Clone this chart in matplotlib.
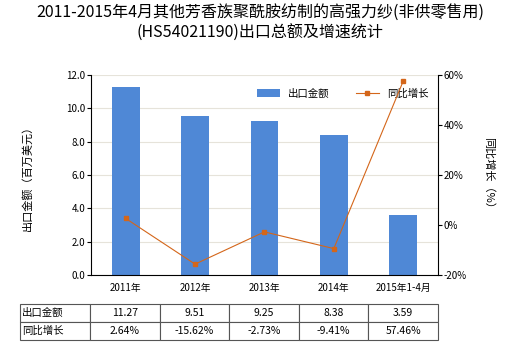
import matplotlib
matplotlib.use("Agg")
import matplotlib.pyplot as plt
import numpy as np

plt.rcParams['font.family'] = ['Noto Sans CJK SC', 'DejaVu Sans']

# données
categories = ["2011年", "2012年", "2013年", "2014年", "2015年1-4月"]
export_values = [11.27, 9.51, 9.25, 8.38, 3.59]
growth_values = [2.64, -15.62, -2.73, -9.41, 57.46]
export_labels = ["11.27", "9.51", "9.25", "8.38", "3.59"]
growth_labels = ["2.64%", "-15.62%", "-2.73%", "-9.41%", "57.46%"]

bar_color = "#4F88D6"
line_color = "#D4661A"

fig = plt.figure(figsize=(5.2, 3.5), dpi=100)
ax = fig.add_axes([0.175, 0.214, 0.667, 0.572])
x = np.arange(len(categories))

bars = ax.bar(x, export_values, width=0.4, color=bar_color, label="出口金额", zorder=2)
ax.set_xlim(-0.5, len(categories) - 0.5)
ax.set_ylim(0, 12)
ax.set_yticks(np.arange(0, 12.1, 2))
ax.set_yticklabels(["%.1f" % v for v in np.arange(0, 12.1, 2)], fontsize=7)
ax.set_xticks(x)
ax.set_xticklabels(categories, fontsize=7)
ax.tick_params(axis="x", length=0, pad=6)
ax.tick_params(axis="y", length=3, pad=1)
ax.grid(axis="y", color="#E6E3DA", linewidth=0.8, zorder=0)
for s in ["top", "right"]:
    ax.spines[s].set_visible(False)
ax.set_ylabel("出口金额（百万美元）", fontsize=8, labelpad=24)

ax2 = ax.twinx()
line, = ax2.plot(x, growth_values, color=line_color, linewidth=0.8,
                 marker="s", markersize=3.5, label="同比增长", zorder=3)
ax2.set_ylim(-20, 60)
ax2.set_yticks([-20, 0, 20, 40, 60])
ax2.set_yticklabels(["-20%", "0%", "20%", "40%", "60%"], fontsize=7)
ax2.tick_params(axis="y", length=3, pad=1)
for s in ["top", "left", "bottom"]:
    ax2.spines[s].set_visible(False)
ax2.set_ylabel("同比增长（%）", fontsize=8, rotation=-90, labelpad=20)

ax.legend([bars, line], ["出口金额", "同比增长"], loc="upper right",
          bbox_to_anchor=(1.0, 0.98), ncol=2, frameon=False, fontsize=7.5,
          handlelength=2.2, columnspacing=2.5)

fig.suptitle("2011-2015年4月其他芳香族聚酰胺纺制的高强力纱(非供零售用)\n(HS54021190)出口总额及增速统计",
             fontsize=11.5, y=0.99, linespacing=1.3)

# tableau
cell_text = [["出口金额"] + export_labels, ["同比增长"] + growth_labels]
table = ax.table(cellText=cell_text, cellLoc="center",
                 bbox=[-0.205, -0.325, 1.205, 0.18],
                 colWidths=[70] + [69.4] * 5)
table.auto_set_font_size(False)
table.set_fontsize(7.5)
for (r, c), cell in table.get_celld().items():
    cell.set_edgecolor("#555555")
    cell.set_linewidth(0.8)
    if c == 0:
        cell.set_text_props(ha="left")
        cell.PAD = 0.03

fig.savefig("out.png", dpi=100)
